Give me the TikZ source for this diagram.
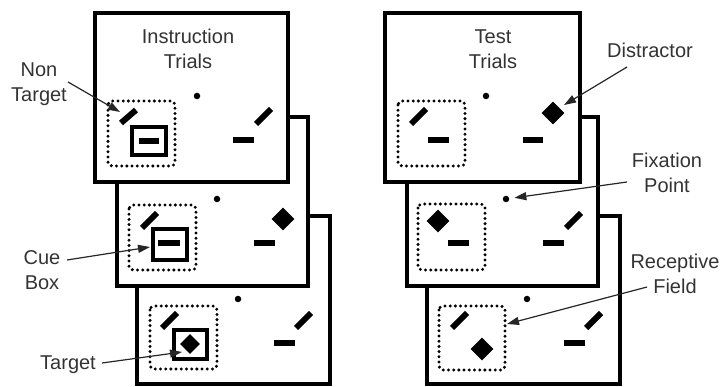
\documentclass[tikz,border=0pt]{standalone}
\usepackage{fontspec}
\setmainfont{Liberation Sans}
\usetikzlibrary{arrows.meta,shapes.geometric}
\begin{document}
\begin{tikzpicture}[x=1pt,y=-1pt,
 frame/.style={draw, line width=3.3pt, fill=white},
 rf/.style={draw, line width=3.3pt, line cap=round, dash pattern=on 0pt off 5.2pt, rounded corners=4pt},
 bar/.style={line width=6pt},
 cue/.style={draw, line width=3.8pt},
 fixdot/.style={fill, circle, inner sep=0pt, minimum size=6.5pt},
 dmd/.style={diamond, fill, inner sep=0pt, minimum width=23pt, minimum height=23pt},
 lbl/.style={font=\fontsize{20}{25}\selectfont, align=center, text=black!80, inner sep=0pt},
 ptr/.style={line width=1.2pt, black!85, -{Triangle[length=12pt,width=8pt]}},
]
\useasboundingbox (0,0) rectangle (720,387);

% ---------- left stack ----------
\draw[frame] (137,216) rectangle (330,384);
\draw[frame] (117,117) rectangle (308,286);
\draw[frame] (95,13) rectangle (288,182);

% L1
\node[lbl] (titleA) at (188,49) {Instruction\\Trials};
\node[fixdot] (fa) at (197,96) {};
\draw[rf] (108,101) rectangle (175,166);
\draw[bar] (121,123) -- (136,110);
\draw[cue] (132,127) rectangle (166,155);
\draw[bar] (139,141) -- (159,141);
\draw[bar] (256,124) -- (271,109);
\draw[bar] (233,140) -- (254,140);

% L2
\node[fixdot] (fb) at (217,199) {};
\draw[rf] (129,205) rectangle (196,270);
\draw[bar] (142,228) -- (157,213);
\draw[cue] (153,229) rectangle (187,260);
\draw[bar] (158,243) -- (180,243);
\node[dmd] (db) at (283,219) {};
\draw[bar] (254,243) -- (275,243);

% L3
\node[fixdot] (fc) at (238,299) {};
\draw[rf] (150,306) rectangle (217,369);
\draw[bar] (162,328) -- (177,313);
\draw[cue] (174,330) rectangle (207,359);
\node[dmd, minimum width=20pt, minimum height=20pt] (tgt) at (190,344) {};
\draw[bar] (296,328) -- (311,313);
\draw[bar] (274,343) -- (295,343);

% left labels
\node[lbl] (nontarget) at (39,84) {Non\\Target};
\coordinate (ntS) at (68,82);
\coordinate (ntE) at (120,112);
\draw[ptr] (ntS) -- (ntE);

\node[lbl] (cuebox) at (42,270) {Cue\\Box};
\coordinate (cbS) at (67,260);
\coordinate (cbE) at (150,247);
\draw[ptr] (cbS) -- (cbE);

\node[lbl] (target) at (68,365) {Target};
\coordinate (tgS) at (102,363);
\coordinate (tgE) at (182,352);
\draw[ptr] (tgS) -- (tgE);

% ---------- right stack ----------
\draw[frame] (427,216) rectangle (620,384);
\draw[frame] (407,117) rectangle (598,286);
\draw[frame] (385,13) rectangle (580,182);

% R1
\node[lbl] (titleB) at (493,49) {Test\\Trials};
\node[fixdot] (fd) at (486,96) {};
\draw[rf] (398,101) rectangle (465,166);
\draw[bar] (411,124) -- (426,109);
\draw[bar] (428,140) -- (449,140);
\node[dmd] (dis) at (553,113) {};
\draw[bar] (523,140) -- (543,140);

% R2
\node[fixdot] (fe) at (506,199) {};
\draw[rf] (418,204) rectangle (485,270);
\node[dmd] (de) at (438,221) {};
\draw[bar] (448,243) -- (469,243);
\draw[bar] (566,228) -- (581,213);
\draw[bar] (543,243) -- (564,243);

% R3
\node[fixdot] (ff) at (527,299) {};
\draw[rf] (439,306) rectangle (505,370);
\draw[bar] (452,328) -- (467,313);
\node[dmd] (dff) at (482,349) {};
\draw[bar] (586,328) -- (601,313);
\draw[bar] (564,343) -- (585,343);

% right labels
\node[lbl] (distractor) at (650,50) {Distractor};
\coordinate (dsS) at (627,67);
\coordinate (dsE) at (564,105);
\draw[ptr] (dsS) -- (dsE);

\node[lbl] (fixation) at (667,173) {Fixation\\Point};
\coordinate (fxS) at (627,182);
\draw[ptr, shorten >=5pt] (fxS) -- (fe);

\node[lbl] (receptive) at (675,274) {Receptive\\Field};
\coordinate (rcS) at (647,287);
\coordinate (rcE) at (507,324);
\draw[ptr] (rcS) -- (rcE);
\end{tikzpicture}
\end{document}
